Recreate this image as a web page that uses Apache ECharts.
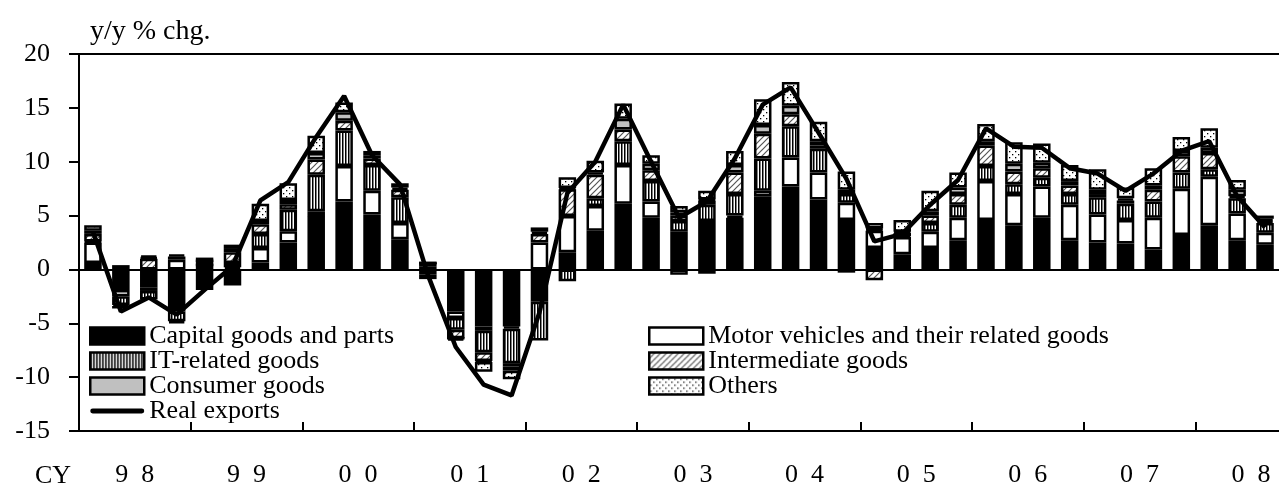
<!DOCTYPE html>
<html>
<head>
<meta charset="utf-8">
<script src="https://cdn.jsdelivr.net/npm/echarts@6/dist/echarts.min.js"></script>
<style>
  html, body { margin: 0; padding: 0; background: #fff; }
  #main { width: 1279px; height: 488px; }
</style>
</head>
<body>
<div id="main"></div>
<script>
// quarters 1998Q1 - 2008Q3
var quarters = ['98Q1','98Q2','98Q3','98Q4','99Q1','99Q2','99Q3','99Q4',
  '00Q1','00Q2','00Q3','00Q4','01Q1','01Q2','01Q3','01Q4',
  '02Q1','02Q2','02Q3','02Q4','03Q1','03Q2','03Q3','03Q4',
  '04Q1','04Q2','04Q3','04Q4','05Q1','05Q2','05Q3','05Q4',
  '06Q1','06Q2','06Q3','06Q4','07Q1','07Q2','07Q3','07Q4',
  '08Q1','08Q2','08Q3'];

var yearLabels = ['9  8','9  9','0  0','0  1','0  2','0  3','0  4','0  5','0  6','0  7','0  8'];
var yearCenters = [2, 6, 10, 14, 18, 22, 26, 30, 34, 38, 42];
var yearTicks = [4, 8, 12, 16, 20, 24, 28, 32, 36, 40];

var capital = [0.6,-1.9,-1.7,-3.9,-1.9,-1.5,0.65,2.5,4.95,6.3,5.1,2.8,-0.5,-3.9,-5.3,-5.3,
  -3.0,1.6,3.6,6.1,4.8,3.5,4.5,4.8,6.8,7.7,6.5,4.6,2.0,1.4,2.0,2.7,
  4.6,4.1,4.8,2.7,2.5,2.4,1.85,3.2,4.1,2.7,2.3];
var motor = [1.9,-0.6,-0.3,0.9,0.4,0.2,1.35,1.05,0.45,3.3,2.2,1.5,0.3,-0.6,-0.4,-0.2,
  2.5,3.35,2.3,3.6,1.5,-0.5,-0.4,0.2,0.5,2.7,2.5,1.6,1.6,1.6,1.5,2.1,
  3.6,2.9,2.9,3.3,2.6,2.2,2.95,4.3,4.5,2.5,1.1];
var itGoods = [0.1,-0.8,-0.8,-0.9,0,0.4,1.3,2.0,3.4,3.3,2.4,2.4,-0.4,-1.1,-2.0,-3.2,
  -3.6,-1.1,0.7,2.2,1.9,1.0,1.5,2.0,3.0,2.9,2.2,0.8,0.1,0.1,0.8,1.2,
  1.4,0.9,0.8,1.0,1.6,1.5,1.5,1.5,0.7,1.4,0.9];
var intermediate = [0.7,-0.2,1.0,0.3,0.4,1.0,0.9,0.5,1.4,0.9,0.6,0.7,0.3,-0.8,-0.8,-0.3,
  0.8,2.5,2.2,1.1,1.0,0.5,0.4,2.0,2.3,1.1,0.3,-0.3,-1.0,0.3,0.7,1.0,
  1.9,1.2,0.9,0.8,0.3,0.3,1.1,1.5,1.5,0.2,0.2];
var consumer = [0.3,0,0.1,-0.2,0,0.3,0.3,0.4,0.6,0.8,0.3,0.2,0,0,-0.1,-0.4,
  0.2,0.1,0.2,1.0,0.6,0.3,0.1,0.7,0.8,0.8,0.4,0.4,0.1,0.1,0.4,0.6,
  0.4,0.7,0.5,0.4,0.4,0.2,0.4,0.5,0.5,0.6,0.2];
var others = [0.5,0.4,0.2,0.2,0.3,0.4,1.6,1.55,1.6,0.9,0.4,0.4,0,-0.2,-0.9,-0.8,
  0.4,1.0,1.1,1.4,0.8,0.6,0.8,1.3,2.4,2.2,1.8,1.7,0.5,1.1,1.9,1.4,
  1.6,2.0,1.8,1.5,1.9,1.0,1.6,1.3,1.8,0.9,0.3];
var realExports = [3.5,-3.9,-2.6,-4.2,-1.9,0.3,6.4,8.1,12.3,16.1,10.6,7.9,-0.5,-7.2,-10.7,-11.7,
  -4.0,7.1,10.0,15.3,10.0,4.8,6.3,10.3,15.3,16.9,12.7,8.4,2.6,3.3,6.0,8.3,
  13.1,11.4,11.3,9.4,8.9,7.3,8.9,11.0,11.9,6.8,3.9];

var serif = 'Liberation Serif';

//填充图案
function makeTile(w, h, draw) {
  var c = document.createElement('canvas');
  c.width = w; c.height = h;
  var ctx = c.getContext('2d');
  ctx.fillStyle = '#fff';
  ctx.fillRect(0, 0, w, h);
  draw(ctx);
  return { image: c, repeat: 'repeat' };
}
var stripes = makeTile(3, 4, function(ctx){
  ctx.fillStyle = '#000';
  ctx.fillRect(0, 0, 1.5, 4);
});
var hatch = makeTile(6, 6, function(ctx){
  ctx.strokeStyle = '#555';
  ctx.lineWidth = 1.2;
  ctx.beginPath();
  ctx.moveTo(0, 6); ctx.lineTo(6, 0);
  ctx.moveTo(-1, 1); ctx.lineTo(1, -1);
  ctx.moveTo(5, 7); ctx.lineTo(7, 5);
  ctx.stroke();
});
var dots = makeTile(6, 6, function(ctx){
  ctx.fillStyle = '#000';
  ctx.fillRect(1, 1, 1.3, 1.3);
  ctx.fillRect(4, 4, 1.3, 1.3);
});

function barSeries(name, data, fill) {
  return {
    name: name,
    type: 'bar',
    stack: 'total',
    barWidth: 17.5,
    xAxisIndex: 0,
    data: data,
    itemStyle: { color: fill, borderColor: '#000', borderWidth: 2.5 }
  };
}

var series = [
  barSeries('Capital goods and parts', capital, '#000'),
  barSeries('Motor vehicles and their related goods', motor, '#fff'),
  barSeries('IT-related goods', itGoods, stripes),
  barSeries('Intermediate goods', intermediate, hatch),
  barSeries('Consumer goods', consumer, '#c0c0c0'),
  barSeries('Others', others, dots),
  {
    name: 'Real exports',
    type: 'line',
    xAxisIndex: 0,
    data: realExports,
    symbol: 'none',
    z: 5,
    lineStyle: { color: '#000', width: 4.5 },
    itemStyle: { color: '#000' }
  }
];
// 0 line
series[0].markLine = {
  silent: true,
  symbol: 'none',
  label: { show: false },
  lineStyle: { color: '#000', width: 2, type: 'solid' },
  data: [{ yAxis: 0 }]
};

var legendText = { fontFamily: serif, fontSize: 26, color: '#000' };
var lineIcon = 'path://M2.5,0 L52.5,0 A2.5,2.5 0 0 1 52.5,5 L2.5,5 A2.5,2.5 0 0 1 2.5,0 Z';
var swatchStyle = { borderColor: '#000', borderWidth: 2.5 };

var myChart = echarts.init(document.getElementById('main'), null, { renderer: 'canvas' });

var option = {
  animation: false,
  backgroundColor: '#fff',
  grid: { left: 79, top: 54, width: 1205, height: 378 },
  legend: [
    {
      orient: 'vertical', left: 84, top: 318,
      icon: 'rect',
      itemWidth: 54, itemHeight: 17, itemGap: -1,
      itemStyle: swatchStyle,
      textStyle: legendText,
      data: ['Capital goods and parts', 'IT-related goods', 'Consumer goods',
        { name: 'Real exports', icon: lineIcon, itemStyle: { borderWidth: 0 } }]
    },
    {
      orient: 'vertical', left: 643, top: 318,
      icon: 'rect',
      itemWidth: 54, itemHeight: 17, itemGap: -1,
      itemStyle: swatchStyle,
      textStyle: legendText,
      data: ['Motor vehicles and their related goods', 'Intermediate goods', 'Others']
    }
  ],
  xAxis: [
    {
      type: 'category',
      data: quarters,
      position: 'top',
      axisLine: { show: true, onZero: false, lineStyle: { color: '#000', width: 2 } },
      axisTick: { show: false },
      axisLabel: { show: false }
    },
    {
      type: 'value',
      min: 0,
      max: 43,
      position: 'bottom',
      axisLine: { show: true, onZero: false, lineStyle: { color: '#000', width: 2 } },
      axisTick: { show: true, inside: true, length: 9, customValues: yearTicks,
        lineStyle: { color: '#000', width: 2 } },
      axisLabel: {
        customValues: yearCenters,
        margin: 31,
        fontFamily: serif, fontSize: 26, color: '#000',
        formatter: function (v) {
          return yearLabels[yearCenters.indexOf(v)];
        }
      },
      splitLine: { show: false }
    }
  ],
  yAxis: {
    type: 'value',
    min: -15,
    max: 20,
    interval: 5,
    axisLine: { show: true, onZero: false, lineStyle: { color: '#000', width: 2 } },
    axisTick: { show: true, length: 10, lineStyle: { color: '#000', width: 2 } },
    axisLabel: { margin: 29, fontFamily: serif, fontSize: 26, color: '#000' },
    splitLine: { show: false }
  },
  graphic: [
    { type: 'text', left: 90, top: 18, style: { text: 'y/y % chg.', font: '28px "Liberation Serif"', fill: '#000' } },
    { type: 'text', left: 35, top: 463, style: { text: 'CY', font: '26px "Liberation Serif"', fill: '#000' } }
  ],
  series: series
};

myChart.setOption(option);
</script>
</body>
</html>
